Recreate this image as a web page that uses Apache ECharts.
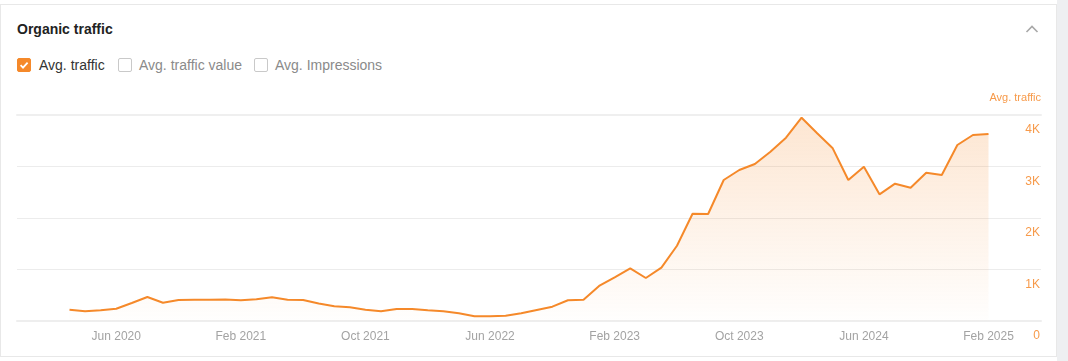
<!DOCTYPE html>
<html>
<head>
<meta charset="utf-8">
<script src="https://cdn.jsdelivr.net/npm/echarts@6/dist/echarts.min.js"></script>
<style>
  html, body { margin: 0; padding: 0; background: #ffffff; }
  body { width: 1068px; height: 361px; position: relative; overflow: hidden; font-family: "Liberation Sans", Arial, sans-serif; }
  #side { position: absolute; left: 1057px; top: 0; width: 11px; height: 361px; background: #eeeff1; }
  #card { position: absolute; left: 0; top: 4px; width: 1055px; height: 351px; border: 1px solid #e8e8e8; background: #fff; }
  #title { position: absolute; left: 17px; top: 21px; font-size: 14px; font-weight: bold; color: #222; }
  #chev { position: absolute; left: 1025px; top: 24px; }
  .cb { position: absolute; top: 58px; width: 12px; height: 12px; border: 1px solid #c9c9c9; border-radius: 2px; background: #fff; }
  .cb.on { background: #f5892a; border-color: #f5892a; }
  .lbl { position: absolute; top: 57px; font-size: 14px; color: #8a8a8a; }
  #chart { position: absolute; left: 0; top: 0; width: 1068px; height: 361px; }
</style>
</head>
<body>
<div id="side"></div>
<div id="card"></div>
<div id="title">Organic traffic</div>
<svg id="chev" width="14" height="10"><polyline points="1.5,8 7,2.5 12.5,8" fill="none" stroke="#a8a8a8" stroke-width="1.6"/></svg>
<div class="cb on" style="left:17px"><svg width="12" height="12" style="display:block"><polyline points="2.6,6.2 5,8.6 9.6,3.6" fill="none" stroke="#fff" stroke-width="1.8"/></svg></div>
<div class="lbl" style="left:39px;color:#333">Avg. traffic</div>
<div class="cb" style="left:118px"></div>
<div class="lbl" style="left:139px">Avg. traffic value</div>
<div class="cb" style="left:254px"></div>
<div class="lbl" style="left:275px">Avg. Impressions</div>
<div id="chart"></div>
<script>
// ---- data ----
const monthNames = ['Jan','Feb','Mar','Apr','May','Jun','Jul','Aug','Sep','Oct','Nov','Dec'];
const months = [];
for (let k = 0; k < 60; k++) {
  const m = (2 + k) % 12;
  const y = 2020 + Math.floor((2 + k) / 12);
  months.push(monthNames[m] + ' ' + y);
}
const avgTraffic = [219,188,208,239,350,466,355,408,414,414,
                    417,402,421,460,414,408,340,285,266,219,
                    188,233,233,208,188,150,91,91,103,150,
                    214,278,402,414,680,849,1023,835,1035,1462,
                    2083,2078,2738,2932,3049,3287,3559,3948,3645,3353,
                    2738,2996,2460,2666,2588,2880,2835,3417,3612,3631];
const xTickLabels = ['Jun 2020','Feb 2021','Oct 2021','Jun 2022','Feb 2023','Oct 2023','Jun 2024','Feb 2025'];
const yTicks = [0, 1000, 2000, 3000, 4000];
const seriesName = 'Avg. traffic';

// ---- chart ----
const seriesData = avgTraffic.map((v, i) => [i, v]);
const tickIdx = xTickLabels.map(l => months.indexOf(l));
const pad = 3.37;
const xMin = -pad, xMax = months.length - 1 + pad;
const orange = '#f5892a';

const chart = echarts.init(document.getElementById('chart'), null, { renderer: 'canvas' });
chart.setOption({
  animation: false,
  grid: { left: 17, right: 27, top: 115, bottom: 40 },
  graphic: [{
    type: 'text', right: 27, top: 92,
    style: { text: seriesName, fill: '#f79a4a', font: '11px "Liberation Sans", Arial, sans-serif' }
  }],
  xAxis: [{
    type: 'value', min: xMin, max: xMax,
    axisLine: { show: true, lineStyle: { color: '#eeeeee', width: 2 } },
    axisTick: { show: false },
    splitLine: { show: false },
    axisLabel: {
      customValues: tickIdx,
      formatter: v => months[Math.round(v)],
      color: '#a3a3a3', fontSize: 12, fontFamily: 'Liberation Sans', margin: 10
    }
  }, {
    type: 'value', position: 'top', min: xMin, max: xMax,
    axisLine: { show: true, lineStyle: { color: '#efefef', width: 2 } },
    axisTick: { show: false }, axisLabel: { show: false }, splitLine: { show: false }
  }],
  yAxis: {
    type: 'value', position: 'right', min: yTicks[0], max: yTicks[yTicks.length - 1], interval: 1000,
    axisLine: { show: false }, axisTick: { show: false },
    splitLine: { show: true, lineStyle: { color: '#ececec', width: 1 } },
    axisLabel: {
      inside: true, margin: 1,
      verticalAlign: 'top', padding: [9, 0, 0, 0],
      color: '#f79a4a', fontSize: 12, fontFamily: 'Liberation Sans',
      formatter: v => v === 0 ? '0' : (v / 1000) + 'K'
    }
  },
  series: [{
    name: seriesName, type: 'line', data: seriesData,
    showSymbol: false, smooth: false,
    lineStyle: { color: orange, width: 2 },
    itemStyle: { color: orange },
    areaStyle: {
      color: new echarts.graphic.LinearGradient(0, 0, 0, 1, [
        { offset: 0, color: 'rgba(245,137,42,0.30)' },
        { offset: 1, color: 'rgba(245,137,42,0.01)' }
      ])
    }
  }]
});
</script>
</body>
</html>
